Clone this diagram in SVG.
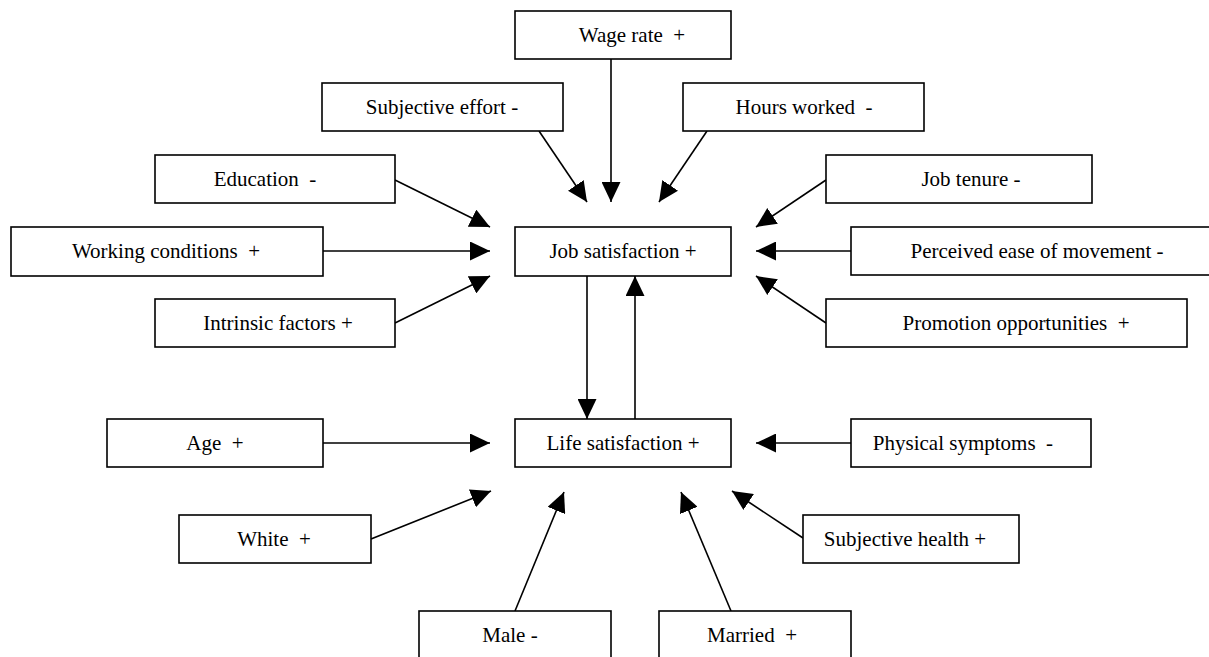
<svg xmlns="http://www.w3.org/2000/svg" width="1209" height="657" viewBox="0 0 1209 657">
<defs>
<marker id="ah" markerUnits="userSpaceOnUse" markerWidth="20" markerHeight="19" refX="20" refY="9.5" orient="auto" viewBox="0 0 20 19">
<path d="M0,0 L20,9.5 L0,19 z" fill="#000"/>
</marker>
<style>
.box{fill:#fff;stroke:#000;stroke-width:1.6}
.lbl{font-family:"Liberation Serif","Times New Roman",serif;font-size:21px;fill:#000;text-anchor:middle;white-space:pre}
.edge{stroke:#000;stroke-width:1.6;fill:none;marker-end:url(#ah)}
</style>
</defs>
<rect width="1209" height="657" fill="#fff"/>
<g id="connectors">
<line class="edge" x1="611" y1="59" x2="611" y2="202"/>
<line class="edge" x1="539" y1="131" x2="587" y2="202"/>
<line class="edge" x1="707" y1="131" x2="659" y2="202"/>
<line class="edge" x1="395" y1="180" x2="490" y2="227"/>
<line class="edge" x1="323" y1="251" x2="490" y2="251"/>
<line class="edge" x1="395" y1="323" x2="490" y2="276"/>
<line class="edge" x1="826" y1="180" x2="756" y2="227"/>
<line class="edge" x1="851" y1="251" x2="756" y2="251"/>
<line class="edge" x1="826" y1="323" x2="756" y2="276"/>
<line class="edge" x1="587" y1="276" x2="587" y2="419"/>
<line class="edge" x1="635" y1="419" x2="635" y2="276"/>
<line class="edge" x1="323" y1="443" x2="490" y2="443"/>
<line class="edge" x1="851" y1="443" x2="756" y2="443"/>
<line class="edge" x1="371" y1="539" x2="491" y2="491"/>
<line class="edge" x1="803" y1="538" x2="732" y2="491"/>
<line class="edge" x1="515" y1="611" x2="564" y2="492"/>
<line class="edge" x1="731" y1="611" x2="681" y2="492"/>
</g>
<g id="wage"><rect class="box" x="515" y="11" width="216" height="48"/><text class="lbl" x="632" y="42" xml:space="preserve">Wage rate  +</text></g>
<g id="effort"><rect class="box" x="322" y="83" width="241" height="48"/><text class="lbl" x="442" y="114">Subjective effort -</text></g>
<g id="hours"><rect class="box" x="683" y="83" width="241" height="48"/><text class="lbl" x="804" y="114" xml:space="preserve">Hours worked  -</text></g>
<g id="education"><rect class="box" x="155" y="155" width="240" height="48"/><text class="lbl" x="265" y="186" xml:space="preserve">Education  -</text></g>
<g id="tenure"><rect class="box" x="826" y="155" width="266" height="48"/><text class="lbl" x="971" y="186">Job tenure -</text></g>
<g id="conditions"><rect class="box" x="11" y="227" width="312" height="49"/><text class="lbl" x="166" y="258" xml:space="preserve">Working conditions  +</text></g>
<g id="jobsat"><rect class="box" x="515" y="227" width="216" height="49"/><text class="lbl" x="623" y="258">Job satisfaction +</text></g>
<g id="ease"><rect class="box" x="851" y="227" width="370" height="48"/><text class="lbl" x="1037" y="258">Perceived ease of movement -</text></g>
<g id="intrinsic"><rect class="box" x="155" y="299" width="240" height="48"/><text class="lbl" x="278" y="330">Intrinsic factors +</text></g>
<g id="promotion"><rect class="box" x="826" y="299" width="361" height="48"/><text class="lbl" x="1016" y="330" xml:space="preserve">Promotion opportunities  +</text></g>
<g id="age"><rect class="box" x="107" y="419" width="216" height="48"/><text class="lbl" x="215" y="450" xml:space="preserve">Age  +</text></g>
<g id="lifesat"><rect class="box" x="515" y="419" width="216" height="48"/><text class="lbl" x="623" y="450">Life satisfaction +</text></g>
<g id="physical"><rect class="box" x="851" y="419" width="240" height="48"/><text class="lbl" x="963" y="450" xml:space="preserve">Physical symptoms  -</text></g>
<g id="white"><rect class="box" x="179" y="515" width="192" height="48"/><text class="lbl" x="274" y="546" xml:space="preserve">White  +</text></g>
<g id="health"><rect class="box" x="803" y="515" width="216" height="48"/><text class="lbl" x="905" y="546">Subjective health +</text></g>
<g id="male"><rect class="box" x="419" y="611" width="192" height="48"/><text class="lbl" x="510" y="642">Male -</text></g>
<g id="married"><rect class="box" x="659" y="611" width="192" height="48"/><text class="lbl" x="752" y="642" xml:space="preserve">Married  +</text></g>
</svg>
